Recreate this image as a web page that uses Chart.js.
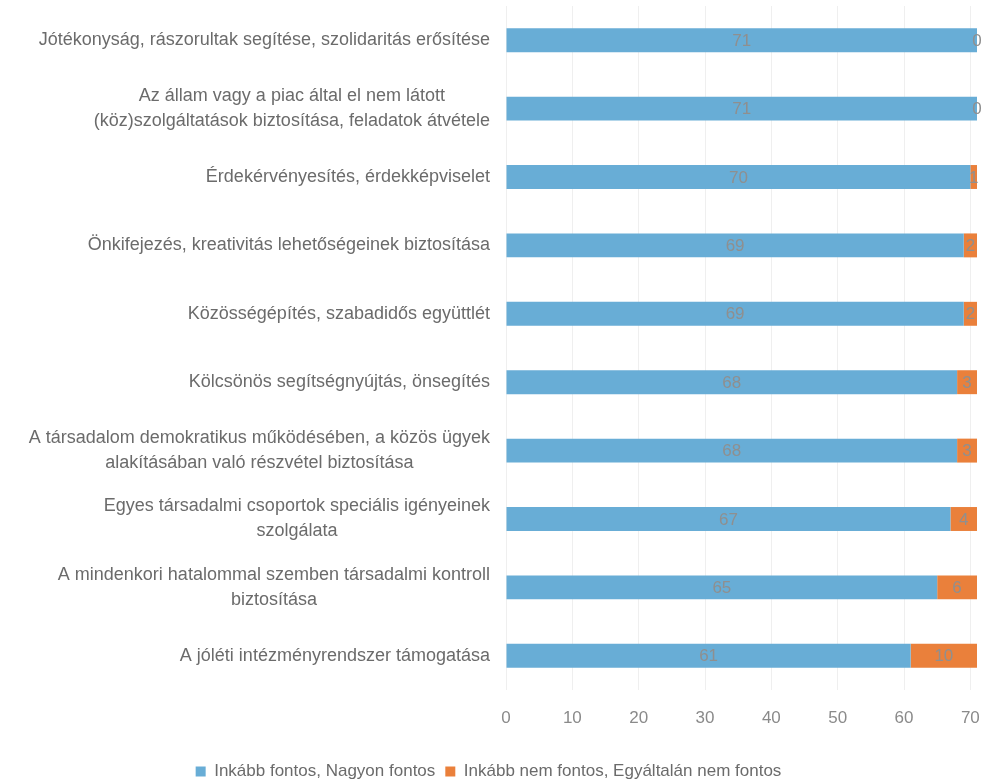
<!DOCTYPE html>
<html>
<head>
<meta charset="utf-8">
<script src="https://cdn.jsdelivr.net/npm/chart.js@4/dist/chart.umd.min.js"></script>
<style>
  html, body { margin: 0; padding: 0; background: #fff; }
  #wrap { width: 985px; height: 782px; }
</style>
</head>
<body>
<div id="wrap"><canvas id="barChart"></canvas></div>
<script>
  // Categories (multi-line labels as arrays)
  const categories = [
    ['Jótékonyság, rászorultak segítése, szolidaritás erősítése'],
    ['Az állam vagy a piac által el nem látott', '(köz)szolgáltatások biztosítása, feladatok átvétele'],
    ['Érdekérvényesítés, érdekképviselet'],
    ['Önkifejezés, kreativitás lehetőségeinek biztosítása'],
    ['Közösségépítés, szabadidős együttlét'],
    ['Kölcsönös segítségnyújtás, önsegítés'],
    ['A társadalom demokratikus működésében, a közös ügyek', 'alakításában való részvétel biztosítása'],
    ['Egyes társadalmi csoportok speciális igényeinek', 'szolgálata'],
    ['A mindenkori hatalommal szemben társadalmi kontroll', 'biztosítása'],
    ['A jóléti intézményrendszer támogatása']
  ];
  const seriesNames = ['Inkább fontos, Nagyon fontos', 'Inkább nem fontos, Egyáltalán nem fontos'];
  const important = [71, 71, 70, 69, 69, 68, 68, 67, 65, 61];
  const notImportant = [0, 0, 1, 2, 2, 3, 3, 4, 6, 10];
  const xTicks = [0, 10, 20, 30, 40, 50, 60, 70];

  const FONT = '"Liberation Sans", Arial, sans-serif';

  // draws the category labels: block right-aligned, lines centered
  const categoryLabels = {
    id: 'categoryLabels',
    afterDraw(chart) {
      const ctx = chart.ctx;
      const yScale = chart.scales.y;
      const right = chart.scales.x.left - 16;
      const lh = 25;
      ctx.save();
      ctx.font = '18px ' + FONT;
      ctx.fillStyle = '#6b6b6b';
      ctx.textAlign = 'center';
      ctx.textBaseline = 'middle';
      categories.forEach((lines, i) => {
        const y = yScale.getPixelForTick(i);
        let maxW = 0;
        lines.forEach(l => { maxW = Math.max(maxW, ctx.measureText(l).width); });
        const cx = right - maxW / 2;
        const y0 = y - (lines.length - 1) * lh / 2;
        lines.forEach((l, k) => ctx.fillText(l, cx, y0 + k * lh));
      });
      ctx.restore();
    }
  };

  // value labels centred in each bar segment
  const valueLabels = {
    id: 'valueLabels',
    afterDatasetsDraw(chart) {
      const ctx = chart.ctx;
      ctx.save();
      ctx.font = '17px ' + FONT;
      ctx.fillStyle = '#8f8f8f';
      ctx.textAlign = 'center';
      ctx.textBaseline = 'middle';
      chart.data.datasets.forEach((ds, di) => {
        const meta = chart.getDatasetMeta(di);
        meta.data.forEach((bar, i) => {
          const cx = (bar.x + bar.base) / 2;
          ctx.fillText(String(ds.data[i]), cx, bar.y + 1);
        });
      });
      ctx.restore();
    }
  };

  const ctx = document.getElementById('barChart').getContext('2d');
  const barChart = new Chart(ctx, {
    type: 'bar',
    data: {
      labels: categories,
      datasets: [{
        label: seriesNames[0],
        data: important,
        backgroundColor: '#68add6',
        barPercentage: 0.7,
        categoryPercentage: 0.5
      }, {
        label: seriesNames[1],
        data: notImportant,
        backgroundColor: '#ea803b',
        barPercentage: 0.7,
        categoryPercentage: 0.5
      }]
    },
    options: {
      indexAxis: 'y',
      responsive: true,
      maintainAspectRatio: false,
      animation: false,
      layout: { padding: { top: 6, right: 8, bottom: -8, left: 0 } },
      scales: {
        x: {
          stacked: true,
          min: 0,
          max: 71,
          afterBuildTicks: (scale) => {
            scale.ticks = xTicks.map(v => ({ value: v }));
          },
          afterFit: (scale) => {
            scale.paddingRight = 0;
            scale.height = 63;
          },
          grid: { color: '#efefef', drawTicks: false },
          border: { display: false },
          ticks: {
            color: '#8a8a8a',
            padding: 18,
            font: { family: FONT, size: 17 }
          }
        },
        y: {
          stacked: true,
          grid: { display: false },
          border: { display: false },
          ticks: { display: false },
          afterFit: (scale) => { scale.width = 506; }
        }
      },
      plugins: {
        legend: {
          position: 'bottom',
          labels: {
            boxWidth: 10,
            boxHeight: 10,
            padding: 10,
            color: '#6b6b6b',
            font: { family: FONT, size: 17 }
          }
        },
        tooltip: { enabled: false }
      }
    },
    plugins: [categoryLabels, valueLabels]
  });
</script>
</body>
</html>
